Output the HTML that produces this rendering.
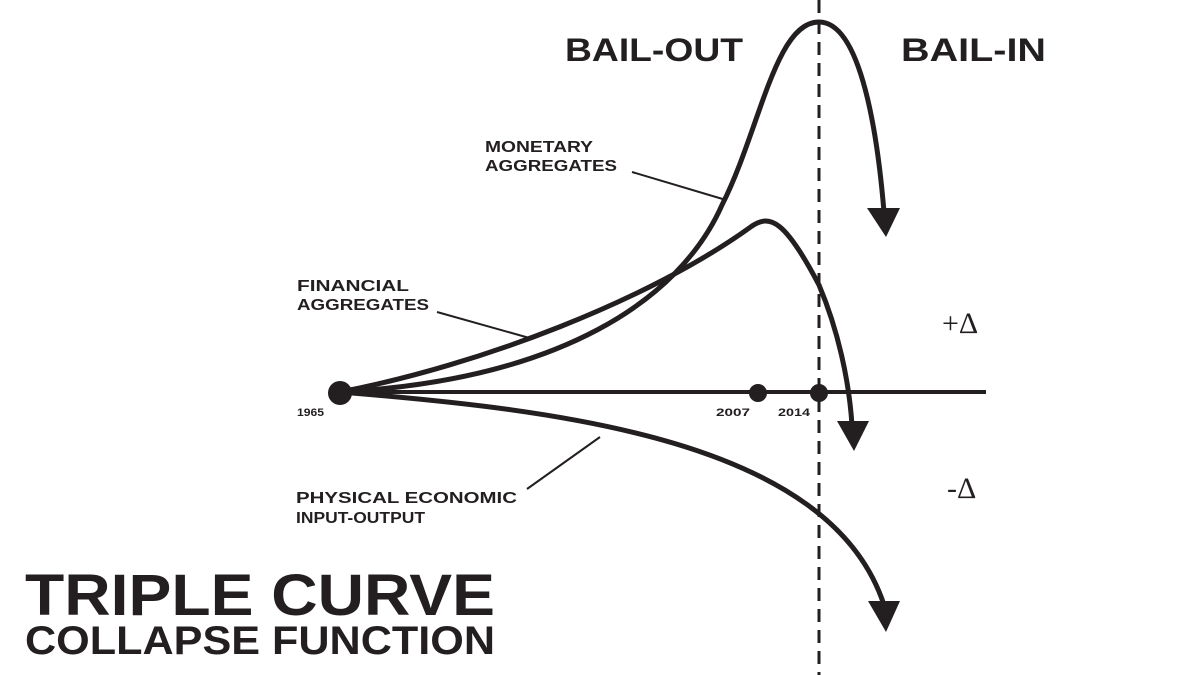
<!DOCTYPE html>
<html><head><meta charset="utf-8"><style>
html,body{margin:0;padding:0;background:#fff;}
svg{display:block;}
text{font-family:"Liberation Sans",sans-serif;font-weight:bold;fill:#231f20;}
</style></head><body>
<svg width="1200" height="675" viewBox="0 0 1200 675" xmlns="http://www.w3.org/2000/svg">
<rect width="1200" height="675" fill="#fff"/>
<g stroke="#231f20" fill="none" stroke-linecap="butt">
<line x1="819" y1="0" x2="819" y2="675" stroke-width="3" stroke-dasharray="13,8"/>
<line x1="340" y1="392" x2="986" y2="392" stroke-width="4"/>
<path d="M340 392 C 560 380, 680 300, 722 205 C 760 130, 775 22, 819 22 C 862 22, 878 140, 884 212" stroke-width="5"/>
<path d="M340 392 C 480 365, 650 300, 752 226 C 770 214, 785 220, 819 285 C 838 330, 849 380, 852 425" stroke-width="5"/>
<path d="M340 392 C 560 410, 830 440, 884 605" stroke-width="5"/>
<line x1="632" y1="172" x2="726" y2="200" stroke-width="2"/>
<line x1="437" y1="312" x2="533" y2="339" stroke-width="2"/>
<line x1="527" y1="489" x2="600" y2="437" stroke-width="2"/>
</g>
<g fill="#231f20">
<polygon points="867,208 900,208 886,237"/>
<polygon points="837,421 869,421 854,451"/>
<polygon points="868,601 900,601 886,632"/>
<circle cx="340" cy="393" r="12"/>
<circle cx="758" cy="393" r="9"/>
<circle cx="819" cy="393" r="9"/>
</g>
<text x="565" y="61" font-size="32" textLength="178" lengthAdjust="spacingAndGlyphs">BAIL-OUT</text>
<text x="901" y="61" font-size="32" textLength="145" lengthAdjust="spacingAndGlyphs">BAIL-IN</text>
<text x="485" y="152" font-size="16" textLength="108" lengthAdjust="spacingAndGlyphs">MONETARY</text>
<text x="485" y="171" font-size="16" textLength="132" lengthAdjust="spacingAndGlyphs">AGGREGATES</text>
<text x="297" y="291" font-size="16" textLength="112" lengthAdjust="spacingAndGlyphs">FINANCIAL</text>
<text x="297" y="310" font-size="16" textLength="132" lengthAdjust="spacingAndGlyphs">AGGREGATES</text>
<text x="296" y="503" font-size="16" textLength="221" lengthAdjust="spacingAndGlyphs">PHYSICAL ECONOMIC</text>
<text x="296" y="523" font-size="16" textLength="129" lengthAdjust="spacingAndGlyphs">INPUT-OUTPUT</text>
<text x="297" y="416" font-size="11" textLength="27" lengthAdjust="spacingAndGlyphs">1965</text>
<text x="716" y="416" font-size="11" textLength="34" lengthAdjust="spacingAndGlyphs">2007</text>
<text x="778" y="416" font-size="11" textLength="32" lengthAdjust="spacingAndGlyphs">2014</text>
<text x="942" y="333" font-size="30" style="font-weight:normal;font-family:'Liberation Serif',serif">+Δ</text>
<text x="947" y="498" font-size="30" style="font-weight:normal;font-family:'Liberation Serif',serif">-Δ</text>
<text x="25" y="615" font-size="58" textLength="470" lengthAdjust="spacingAndGlyphs">TRIPLE CURVE</text>
<text x="25" y="654" font-size="40" textLength="470" lengthAdjust="spacingAndGlyphs">COLLAPSE FUNCTION</text>
</svg>
</body></html>
